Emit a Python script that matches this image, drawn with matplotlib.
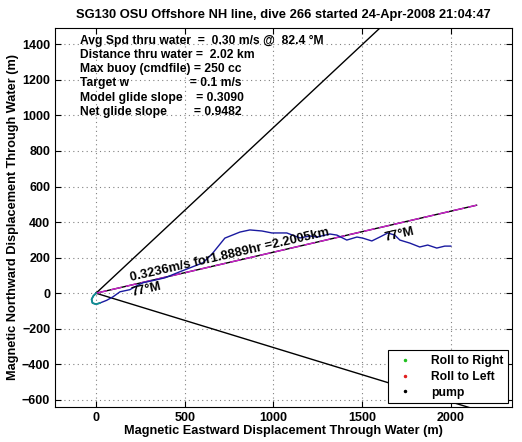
import matplotlib
matplotlib.use("Agg")
import matplotlib.pyplot as plt
from matplotlib.lines import Line2D
import numpy as np

plt.rcParams['font.family'] = ['Liberation Sans', 'DejaVu Sans']
plt.rcParams['font.weight'] = 'bold'

# track through water (m), magnetic east / north
track_x = [0, -15, -25, -20, 0, 22, 60, 96, 135, 191, 220, 265, 343, 389, 473, 530, 602,
           653, 726, 811, 867, 935, 991, 1075, 1149, 1206, 1244, 1318, 1357, 1413, 1470,
           1503, 1554, 1599, 1644, 1683, 1712, 1768, 1824, 1869, 1920, 1965, 1999]
track_y = [0, -15, -35, -55, -62, -55, -40, -20, 8, 20, 37, 59, 76, 87, 121, 143, 171,
           220, 310, 344, 356, 350, 339, 339, 311, 322, 316, 333, 327, 299, 316,
           310, 294, 316, 339, 327, 299, 282, 260, 271, 254, 265, 265]

heading = 77.0        # deg magnetic
spread = 30.0         # deg either side
dist_km = 2.2005
speed = 0.3236
hours = 1.8889

stats = ["Avg Spd thru water  =  0.30 m/s @  82.4 \u00b0M",
         "Distance thru water =  2.02 km",
         "Max buoy (cmdfile) = 250 cc",
         "Target w                  = 0.1 m/s",
         "Model glide slope    = 0.3090",
         "Net glide slope        = 0.9482"]

fig = plt.figure(figsize=(5.22, 4.42), dpi=100)
ax = fig.add_axes([0.1054, 0.0792, 0.8755, 0.8575])

# heading fan lines
L = 5000
for h in [heading - spread, heading + spread]:
    r = np.radians(h)
    ax.plot([0, L*np.sin(r)], [0, L*np.cos(r)], color='black', lw=1)

# straight-line net displacement
r = np.radians(heading)
ex, ey = dist_km*1000*np.sin(r), dist_km*1000*np.cos(r)
ax.plot([0, ex], [0, ey], color='black', lw=1)
ax.plot([0, ex], [0, ey], color='#d020d0', lw=1, ls=(0, (8, 3)))

# track
ax.plot(track_x, track_y, color='#1a1aa0', lw=1)
ax.plot(track_x[:6], track_y[:6], color='#109090', lw=1.3)

ax.text(203, 55, "%.4fm/s for%.4fhr =%.4fkm" % (speed, hours, dist_km),
        rotation=13, rotation_mode='anchor', ha='left', va='bottom',
        fontsize=9.3, fontweight='bold')
ax.text(200, 0, "%d\u00b0M" % heading, rotation=13, rotation_mode='anchor',
        ha='left', va='center', fontsize=9.3, fontweight='bold')
ax.text(1630, 310, "%d\u00b0M" % heading, rotation=13, rotation_mode='anchor',
        ha='left', va='center', fontsize=9.3, fontweight='bold')

for i, s in enumerate(stats):
    ax.text(-90, 1420 - i*80, s, fontsize=8.7, fontweight='bold', va='center', ha='left')

ax.set_xlim(-231, 2344)
ax.set_ylim(-640, 1492)
ax.set_xticks([0, 500, 1000, 1500, 2000])
ax.set_yticks(np.arange(-600, 1401, 200))
ax.grid(True, ls=(0, (1, 3)), color='#808080', lw=0.8)
ax.tick_params(direction='in', top=True, right=True, labelsize=9, length=4)
for lab in ax.get_xticklabels() + ax.get_yticklabels():
    lab.set_fontweight('bold')

ax.set_xlabel("Magnetic Eastward Displacement Through Water (m)", fontsize=9.2,
              fontweight='bold', labelpad=1)
ax.set_ylabel("Magnetic Northward Displacement Through Water (m)", fontsize=9.2,
              fontweight='bold', labelpad=2)
ax.set_title("SG130 OSU Offshore NH line, dive 266 started 24-Apr-2008 21:04:47",
             fontsize=9.3, fontweight='bold', pad=7)

handles = [Line2D([], [], ls='none', marker='.', ms=3, color='#20c020'),
           Line2D([], [], ls='none', marker='.', ms=3, color='#e02020'),
           Line2D([], [], ls='none', marker='.', ms=3, color='black')]
leg = ax.legend(handles, ["Roll to Right", "Roll to Left", "pump"], loc='lower right',
                fancybox=False, edgecolor='black', framealpha=1, fontsize=8.7,
                borderaxespad=0.3, handletextpad=1.2, labelspacing=0.3)
leg.get_frame().set_linewidth(0.8)
for t in leg.get_texts():
    t.set_fontweight('bold')

fig.savefig("out.png", dpi=100)
